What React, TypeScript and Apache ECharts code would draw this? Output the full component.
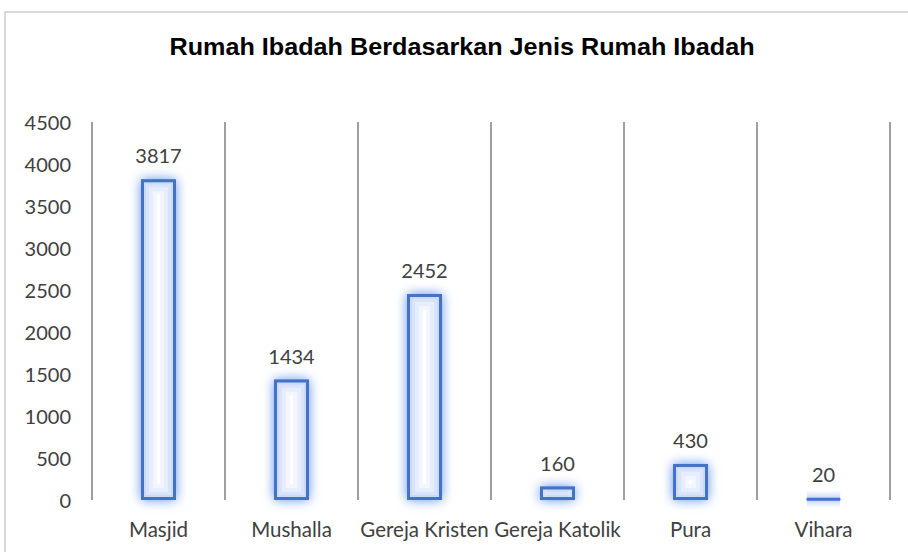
import React, { useEffect, useRef } from "react";
import * as echarts from "echarts";

const TITLE = "Rumah Ibadah Berdasarkan Jenis Rumah Ibadah";
const categories = ["Masjid", "Mushalla", "Gereja Kristen", "Gereja Katolik", "Pura", "Vihara"];
const values = [3817, 1434, 2452, 160, 430, 20];
const yMin = 0;
const yMax = 4500;
const yStep = 500;

export default function App() {
  const ref = useRef<HTMLDivElement>(null);
  useEffect(() => {
    if (!ref.current) return;
    const chart = echarts.init(ref.current, undefined, { renderer: "svg" });
    const font = "Lato";
    const bw = 35;
    const glowLayers = [
      { width: 16, alpha: 0.09 },
      { width: 12, alpha: 0.1 },
      { width: 8, alpha: 0.12 },
      { width: 5, alpha: 0.14 },
    ];
    const glowSeries = glowLayers.map((g) => ({
      type: "bar",
      data: values,
      barWidth: bw,
      barGap: "-100%",
      silent: true,
      itemStyle: {
        color: "rgba(255,255,255,0)",
        borderColor: `rgba(120,160,240,${g.alpha})`,
        borderWidth: g.width,
      },
    }));
    chart.setOption({
      animation: false,
      backgroundColor: "#ffffff",
      graphic: [
        {
          type: "rect",
          shape: { x: 5, y: 12, width: 920, height: 560 },
          style: { fill: "none", stroke: "#d9d9d9", lineWidth: 2 },
          silent: true,
        },
        {
          type: "text",
          x: 462,
          y: 47,
          scaleX: 1.05,
          style: {
            text: TITLE,
            fontFamily: "Liberation Sans",
            fontWeight: "bold",
            fontSize: 24,
            fill: "#000000",
            textAlign: "center",
            textVerticalAlign: "middle",
          },
        },
      ],
      grid: { left: 92, right: 18, top: 122, bottom: 52, containLabel: false },
      xAxis: {
        type: "category",
        data: categories,
        axisLine: { show: false },
        axisTick: { show: false },
        splitLine: { show: true, lineStyle: { color: "#7f7f7f", width: 1.5 } },
        axisLabel: { interval: 0, color: "#404040", fontFamily: font, fontSize: 20.5, margin: 18 },
      },
      yAxis: {
        type: "value",
        min: yMin,
        max: yMax,
        interval: yStep,
        axisLine: { show: false },
        axisTick: { show: false },
        splitLine: { show: false },
        axisLabel: {
          color: "#404040",
          fontFamily: font,
          fontSize: 20,
          margin: 21,
          formatter: (v: number) => String(v),
        },
      },
      series: [
        {
          type: "bar",
          data: values,
          barWidth: bw,
          silent: true,
          itemStyle: {
            color: "#ffffff",
            borderColor: "rgba(120,160,240,0.6)",
            borderWidth: 1,
            shadowColor: "rgba(90,140,240,1)",
            shadowBlur: 12,
          },
        },
        ...glowSeries,
        {
          type: "bar",
          data: values,
          barWidth: bw,
          barGap: "-100%",
          itemStyle: {
            color: "rgba(255,255,255,0)",
            borderColor: "#4472C4",
            borderWidth: 3,
          },
          label: {
            show: true,
            position: "top",
            distance: 14,
            color: "#404040",
            fontFamily: font,
            fontSize: 20,
          },
        },
      ],
    });
    return () => chart.dispose();
  }, []);
  return (
    <div
      ref={ref}
      style={{ position: "fixed", left: 0, top: 0, width: 908, height: 552 }}
    />
  );
}
